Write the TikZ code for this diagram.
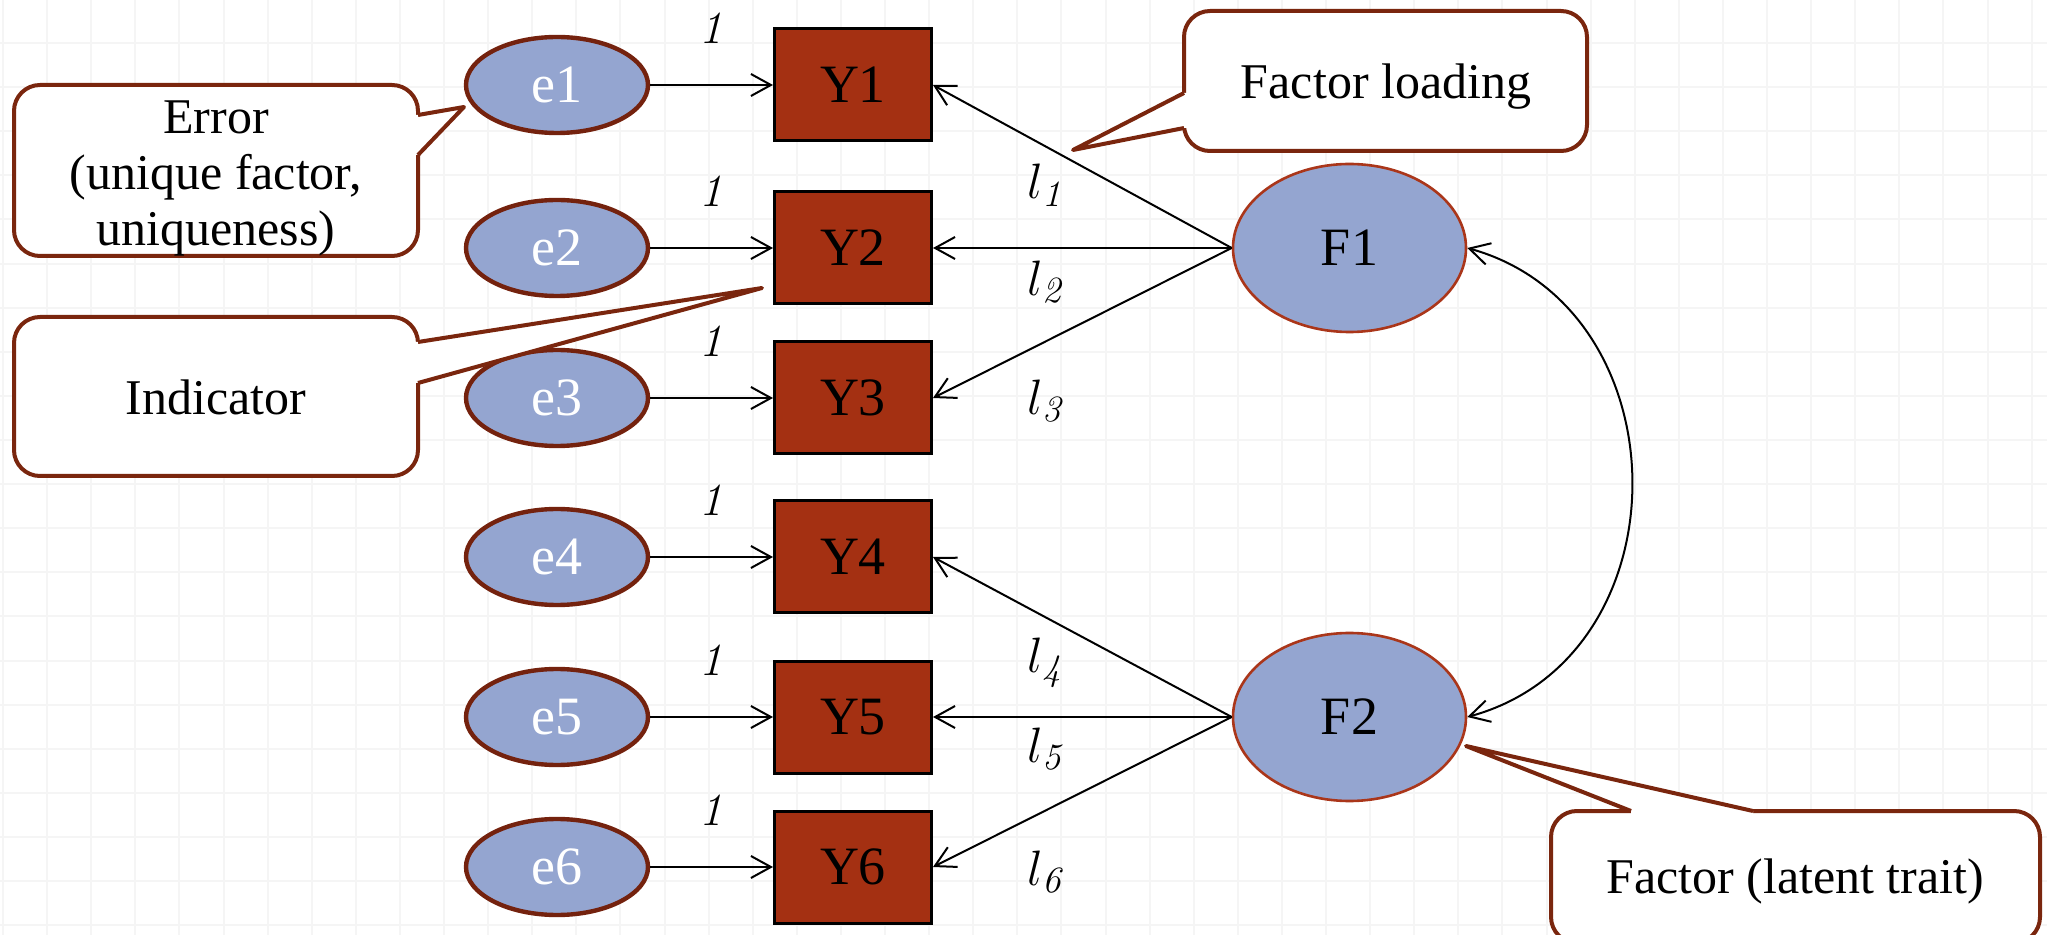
\documentclass[tikz,border=0pt]{standalone}
\usepackage{fontspec}
\newfontfamily\diagfont{Liberation Serif}
\usetikzlibrary{arrows.meta,shapes.geometric}

\definecolor{efill}{RGB}{148,165,208}
\definecolor{ebrown}{RGB}{116,34,14}
\definecolor{yrust}{RGB}{164,48,18}
\definecolor{fedge}{RGB}{170,54,26}
\definecolor{cbrown}{RGB}{122,38,14}
\definecolor{gridline}{RGB}{245,245,245}

\begin{document}
\begin{tikzpicture}[x=0.5pt,y=-0.5pt,
  nodefont/.style={font=\diagfont\fontsize{27}{32}\selectfont},
  errnode/.style={ellipse, draw=ebrown, line width=2.2pt, fill=efill,
    minimum width=91pt, minimum height=48pt, inner sep=0pt, text=white, nodefont},
  obsnode/.style={rectangle, draw=black, line width=1.5pt, fill=yrust,
    minimum width=78.5pt, minimum height=56pt, inner sep=0pt, nodefont},
  latnode/.style={ellipse, draw=fedge, line width=1.3pt, fill=efill,
    minimum width=116.5pt, minimum height=84pt, inner sep=0pt, nodefont},
  link/.style={line width=1pt, -{Straight Barb[length=10pt,width=11pt]}},
  covlink/.style={line width=1pt, {Straight Barb[length=10pt,width=11pt]}-{Straight Barb[length=10pt,width=11pt]}},
  onelabel/.style={inner sep=0pt, font=\itshape\fontsize{23}{28}\selectfont},
  loadlabel/.style={inner sep=0pt, font=\fontsize{26.5}{32}\selectfont},
  callout/.style={rectangle, rounded corners=13pt, draw=cbrown, line width=2pt,
    fill=white, inner sep=0pt},
  calltext/.style={align=center, inner sep=0pt,
    font=\diagfont\fontsize{25}{28}\selectfont},
  pointer/.style={draw=cbrown, line width=2pt, line join=round}
]
\useasboundingbox (0,0) rectangle (2047,935);

% faint background grid
\foreach \i in {0,...,46}
  \draw[gridline, line width=1pt] ({3+44.1*\i},0) -- ({3+44.1*\i},935);
\foreach \j in {1,...,21}
  \draw[gridline, line width=1pt] (0,{-1+44.1*\j}) -- (2047,{-1+44.1*\j});

% error terms, indicators and factors
\foreach \k/\yy in {1/85,2/248,3/398,4/557,5/717,6/867}{
  \node[errnode] (e\k) at (557,\yy) {e\k};
  \node[obsnode] (y\k) at (853,\yy) {Y\k};
  \node[onelabel] (one\k) at (711,\yy-57) {1};
  \draw[link] (e\k) -- (y\k);
}
\node[latnode] (f1) at (1349.5,248) {F1};
\node[latnode] (f2) at (1349.5,717) {F2};

% factor loadings
\draw[link] (f1.west) -- (y1.east);
\draw[link] (f1.west) -- (y2.east);
\draw[link] (f1.west) -- (y3.east);
\draw[link] (f2.west) -- (y4.east);
\draw[link] (f2.west) -- (y5.east);
\draw[link] (f2.west) -- (y6.east);

\node[loadlabel] (l1) at (1045,185) {$l_{\mathit{1}}$};
\node[loadlabel] (l2) at (1045,282) {$l_{\mathit{2}}$};
\node[loadlabel] (l3) at (1045,401) {$l_{\mathit{3}}$};
\node[loadlabel] (l4) at (1045,663) {$l_{\mathit{4}}$};
\node[loadlabel] (l5) at (1045,749) {$l_{\mathit{5}}$};
\node[loadlabel] (l6) at (1045,872) {$l_{\mathit{6}}$};

% factor covariance
\draw[covlink] (f1.east) .. controls (1685,308) and (1688,657) .. (f2.east);

% callouts: rounded box, pointer, then text
\node[callout, minimum width=202pt, minimum height=85.5pt] (cerr) at (216,170.5) {};
\coordinate (terr) at (464,107);
\fill[white] (412,115) -- (418,115) -- (terr) -- (418,155) -- (412,155) -- cycle;
\draw[pointer] (418,115) -- (terr) -- (418,155);
\node[calltext] (terrtext) at (216,178) {Error\\(unique factor,\\uniqueness)};

\node[callout, minimum width=202pt, minimum height=79.5pt] (cind) at (216,396.5) {};
\coordinate (tind) at (762,288);
\fill[white] (412,342) -- (418,342) -- (tind) -- (418,383) -- (412,383) -- cycle;
\draw[pointer] (418,342) -- (tind) -- (418,383);
\node[calltext, anchor=base] (tindtext) at (216,415) {Indicator};

\node[callout, minimum width=201.5pt, minimum height=70pt] (cload) at (1385.5,81) {};
\coordinate (tload) at (1073,150);
\fill[white] (1190,93) -- (1184,93) -- (tload) -- (1184,128) -- (1190,128) -- cycle;
\draw[pointer] (1184,93) -- (tload) -- (1184,128);
\node[calltext, anchor=base] (tloadtext) at (1386,99) {Factor loading};

\node[callout, minimum width=244.5pt, minimum height=66pt] (cfac) at (1795.5,877) {};
\coordinate (tfac) at (1466,746);
\fill[white] (1631,817) -- (1631,811) -- (tfac) -- (1753,811) -- (1753,817) -- cycle;
\draw[pointer] (1631,811) -- (tfac) -- (1753,811);
\node[calltext, anchor=base] (tfactext) at (1795,893) {Factor (latent trait)};
\end{tikzpicture}
\end{document}
